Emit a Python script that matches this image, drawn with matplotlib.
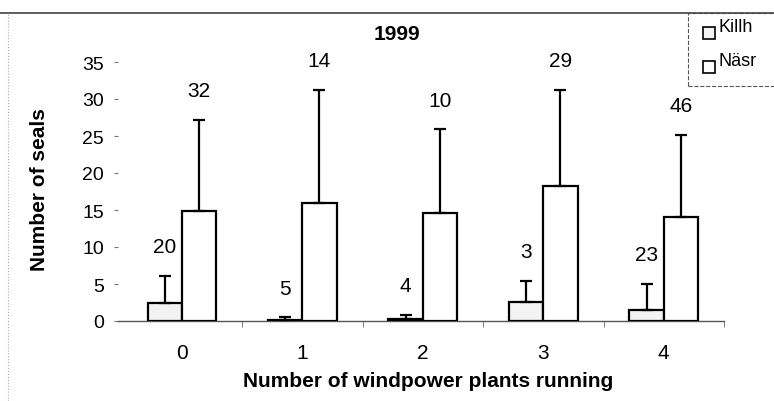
import numpy as np
import matplotlib.pyplot as plt
from matplotlib.patches import Rectangle
from matplotlib.lines import Line2D

plt.rcParams['font.family'] = ['Liberation Sans', 'DejaVu Sans']

# data
plants = ['0', '1', '2', '3', '4']
killh_mean = [2.4, 0.2, 0.3, 2.6, 1.5]
killh_sd = [3.7, 0.3, 0.5, 2.8, 3.5]
killh_n = [20, 5, 4, 3, 23]
nasr_mean = [14.9, 16.0, 14.6, 18.3, 14.0]
nasr_sd = [12.3, 15.2, 11.3, 12.9, 11.2]
nasr_n = [32, 14, 10, 29, 46]
series = ['Killh', 'Näsr']
colors = ['#f3f3f3', 'white']

W, H = 774, 402
x = np.arange(len(plants))
w = 0.285

fig = plt.figure(figsize=(W / 100, H / 100), dpi=100)
ax = fig.add_axes([118 / W, 1 - 322 / H, 606 / W, 259 / H])

bar_kw = dict(width=w, edgecolor='black', linewidth=1.6, zorder=3)
err_kw = dict(elinewidth=1.6, capthick=1.6, ecolor='black')
ax.bar(x - w / 2, killh_mean, color=colors[0], yerr=[np.zeros(5), killh_sd],
       capsize=4, error_kw=err_kw, **bar_kw)
ax.bar(x + w / 2, nasr_mean, color=colors[1], yerr=[np.zeros(5), nasr_sd],
       capsize=4, error_kw=err_kw, **bar_kw)

# sample sizes above the error bars
for i in range(len(plants)):
    ax.annotate(str(killh_n[i]), (x[i] - w / 2, killh_mean[i] + killh_sd[i]),
                xytext=(0, 21), textcoords='offset points', ha='center',
                va='center', fontsize=15, annotation_clip=False)
    ax.annotate(str(nasr_n[i]), (x[i] + w / 2, nasr_mean[i] + nasr_sd[i]),
                xytext=(0, 21), textcoords='offset points', ha='center',
                va='center', fontsize=15, annotation_clip=False)

ax.set_xlim(-0.53, 4.5)
ax.set_ylim(0, 35)
ax.set_yticks(np.arange(0, 36, 5))
ax.set_xticks(x)
ax.set_xticklabels(plants)
ax.set_xticks([0.5, 1.5, 2.5, 3.5, 4.5], minor=True)
ax.tick_params(axis='x', which='major', length=0, pad=16, labelsize=15)
ax.tick_params(axis='x', which='minor', length=4, color='#666666', direction='out')
ax.tick_params(axis='y', length=3, color='#777777', pad=7, labelsize=14)

for s in ['top', 'right', 'left']:
    ax.spines[s].set_visible(False)
ax.spines['bottom'].set_color('#555555')
ax.spines['bottom'].set_linewidth(1.0)

fig.text(397 / W, 1 - 35 / H, '1999', ha='center', va='center',
         fontsize=15, fontweight='bold')
fig.text(40 / W, 1 - 190 / H, 'Number of seals', rotation=90, ha='center',
         va='center', fontsize=15, fontweight='bold')
fig.text(428 / W, 1 - 382 / H, 'Number of windpower plants running',
         ha='center', va='center', fontsize=15, fontweight='bold')

# chart area border (partly visible in the scan)
fig.add_artist(Line2D([0.0, 1.0], [1 - 14 / H, 1 - 14 / H],
                      transform=fig.transFigure, color='#444444', lw=1.2))
fig.add_artist(Line2D([8 / W, 8 / W], [0, 1 - 14 / H],
                      transform=fig.transFigure, color='#aaaaaa', lw=0.8,
                      linestyle=':'))

# legend box, cut off at the right edge like in the scan
fig.add_artist(Rectangle((688 / W, 1 - 87 / H), 100 / W, 73 / H,
                         transform=fig.transFigure, facecolor='white',
                         edgecolor='#555555', lw=0.8, linestyle='--'))
for k, name in enumerate(series):
    cy = 34 + 34 * k
    fig.add_artist(Rectangle((703 / W, 1 - (cy + 6) / H), 12 / W, 12 / H,
                             transform=fig.transFigure, facecolor=colors[k],
                             edgecolor='black', lw=1.2))
    fig.text(719 / W, 1 - (cy - 6) / H, name, ha='left', va='center',
             fontsize=13)

fig.savefig('out.png', dpi=100)
